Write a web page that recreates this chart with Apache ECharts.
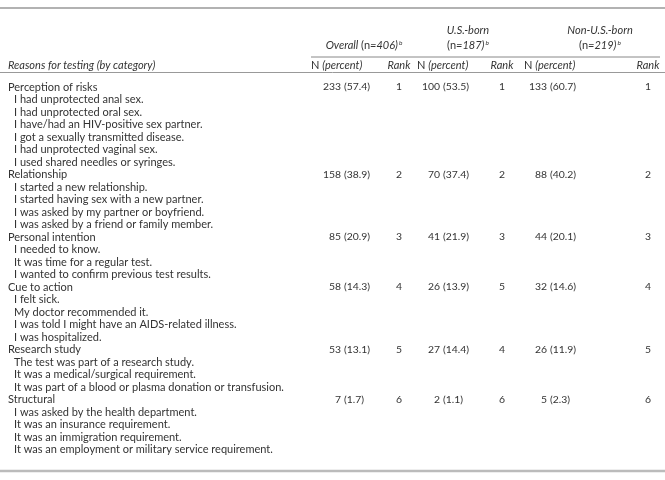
<!DOCTYPE html>
<html><head><meta charset="utf-8">
<script src="https://cdn.jsdelivr.net/npm/echarts@6/dist/echarts.min.js"></script>
<style>html,body{margin:0;padding:0;background:#fff}#c{width:665px;height:480px}</style>
</head><body><div id="c"></div>
<script>
// ---------- data ----------
const categories = ['Perception of risks', 'Relationship', 'Personal intention', 'Cue to action', 'Research study', 'Structural'];
const reasonsRisk = ['I had unprotected anal sex.', 'I had unprotected oral sex.', 'I have/had an HIV-positive sex partner.', 'I got a sexually transmitted disease.', 'I had unprotected vaginal sex.', 'I used shared needles or syringes.'];
const reasonsRelation = ['I started a new relationship.', 'I started having sex with a new partner.', 'I was asked by my partner or boyfriend.', 'I was asked by a friend or family member.'];
const reasonsPersonal = ['I needed to know.', 'It was time for a regular test.', 'I wanted to confirm previous test results.'];
const reasonsCue = ['I felt sick.', 'My doctor recommended it.', 'I was told I might have an AIDS-related illness.', 'I was hospitalized.'];
const reasonsResearch = ['The test was part of a research study.', 'It was a medical/surgical requirement.', 'It was part of a blood or plasma donation or transfusion.'];
const reasonsStructural = ['I was asked by the health department.', 'It was an insurance requirement.', 'It was an immigration requirement.', 'It was an employment or military service requirement.'];
const reasons = [reasonsRisk, reasonsRelation, reasonsPersonal, reasonsCue, reasonsResearch, reasonsStructural];

const groupNames = ['Overall', 'U.S.-born', 'Non-U.S.-born'];
const groupSizes = [406, 187, 219];

const overallN = [233, 158, 85, 58, 53, 7];
const overallPct = [57.4, 38.9, 20.9, 14.3, 13.1, 1.7];
const overallRank = [1, 2, 3, 4, 5, 6];
const usN = [100, 70, 41, 26, 27, 2];
const usPct = [53.5, 37.4, 21.9, 13.9, 14.4, 1.1];
const usRank = [1, 2, 3, 5, 4, 6];
const nonN = [133, 88, 44, 32, 26, 5];
const nonPct = [60.7, 40.2, 20.1, 14.6, 11.9, 2.3];
const nonRank = [1, 2, 3, 4, 5, 6];

const headerLabel = 'Reasons for testing (by category)';
const subHeadRank = 'Rank';

// ---------- layout ----------
const W = 665, H = 480;
const FONT = 'Lato, "Open Sans", sans-serif';
const FS = 11;        // label text
const FSN = 10.4;     // numbers
const TXT = '#333';
const LABEL_X = 8, ITEM_X = 14;
const PAREN_X = [344, 443, 550];
const RANK_X = [399, 502, 648];
const NHEAD_X = [311, 417, 524];
const GROUP_CX = [364, 468, 600];
const ROW_H = 12.5, FIRST_ROW_Y = 87;

const groupsN = [overallN, usN, nonN];
const groupsPct = [overallPct, usPct, nonPct];
const groupsRank = [overallRank, usRank, nonRank];

const rows = [];
categories.forEach((c, ci) => {
  rows.push({ cat: true, label: c, ci });
  reasons[ci].forEach(r => rows.push({ cat: false, label: r }));
});

function renderItem(params, api) {
  const i = params.dataIndex;
  const r = rows[i];
  const y = api.coord([0, i])[1];
  const X = v => api.coord([v, i])[0];
  const font = FS + 'px ' + FONT;
  const fontN = FSN + 'px ' + FONT;
  const ch = [{
    type: 'text',
    style: { x: X(r.cat ? LABEL_X : ITEM_X), y, text: r.label, font, fill: TXT, align: 'left', verticalAlign: 'middle' }
  }];
  if (r.cat) {
    for (let g = 0; g < 3; g++) {
      ch.push({ type: 'text', style: { x: X(PAREN_X[g] - 3), y, text: String(groupsN[g][r.ci]), font: fontN, fill: TXT, align: 'right', verticalAlign: 'middle' } });
      ch.push({ type: 'text', style: { x: X(PAREN_X[g]), y, text: '(' + groupsPct[g][r.ci].toFixed(1) + ')', font: fontN, fill: TXT, align: 'left', verticalAlign: 'middle' } });
      ch.push({ type: 'text', style: { x: X(RANK_X[g]), y, text: String(groupsRank[g][r.ci]), font: fontN, fill: TXT, align: 'center', verticalAlign: 'middle' } });
    }
  }
  return { type: 'group', children: ch };
}

const rich = {
  n: { fontFamily: FONT, fontSize: FS, color: TXT },
  i: { fontFamily: FONT, fontSize: FS, fontStyle: 'italic', color: TXT },
  s: { fontFamily: FONT, fontSize: 6.5, fontStyle: 'italic', color: TXT, verticalAlign: 'top', padding: [0, 0, 4, 1] }
};
function txt(x, y, text, align, extra) {
  return { type: 'text', x, y, style: Object.assign({ text, font: FS + 'px ' + FONT, fill: TXT, align: align || 'left', verticalAlign: 'middle' }, extra || {}) };
}
function rtxt(x, y, text, align) {
  return { type: 'text', x, y, style: { text, rich, fill: TXT, align: align || 'center', verticalAlign: 'middle' } };
}
function hline(x1, x2, y, w, c) {
  return { type: 'line', shape: { x1, y1: y, x2, y2: y }, style: { stroke: c, lineWidth: w } };
}

const graphics = [
  hline(0, W, 8, 1.5, '#999'),
  rtxt(GROUP_CX[0], 45, '{i|' + groupNames[0] + '}{n| (n}{i|=' + groupSizes[0] + ')}{s|b}'),
  rtxt(GROUP_CX[1], 30, '{i|' + groupNames[1] + '}'),
  rtxt(GROUP_CX[1], 45, '{n|(n}{i|=' + groupSizes[1] + ')}{s|b}'),
  rtxt(GROUP_CX[2], 30, '{i|' + groupNames[2] + '}'),
  rtxt(GROUP_CX[2], 45, '{n|(n}{i|=' + groupSizes[2] + ')}{s|b}'),
  hline(311, 660, 57, 1, '#888'),
  txt(LABEL_X, 65, headerLabel, 'left', { font: 'italic ' + FS + 'px ' + FONT }),
  hline(0, W, 72.5, 1, '#999'),
  hline(0, W, 471, 2.5, '#bbb')
];
for (let g = 0; g < 3; g++) {
  graphics.push(rtxt(NHEAD_X[g], 65, '{n|N }{i|(percent)}', 'left'));
  graphics.push(txt(RANK_X[g], 65, subHeadRank, 'center', { font: 'italic ' + FS + 'px ' + FONT }));
}

const chart = echarts.init(document.getElementById('c'), null, { renderer: 'canvas' });
chart.setOption({
  animation: false,
  backgroundColor: '#fff',
  grid: { left: 0, right: 0, top: FIRST_ROW_Y - ROW_H / 2, height: rows.length * ROW_H },
  xAxis: { type: 'value', min: 0, max: W, show: false },
  yAxis: { type: 'category', inverse: true, show: false, data: rows.map((r, i) => String(i)) },
  series: [{
    type: 'custom',
    renderItem,
    data: rows.map((r, i) => [0, i]),
    encode: { x: 0, y: 1 },
    silent: true
  }],
  graphic: graphics
});
</script></body></html>
